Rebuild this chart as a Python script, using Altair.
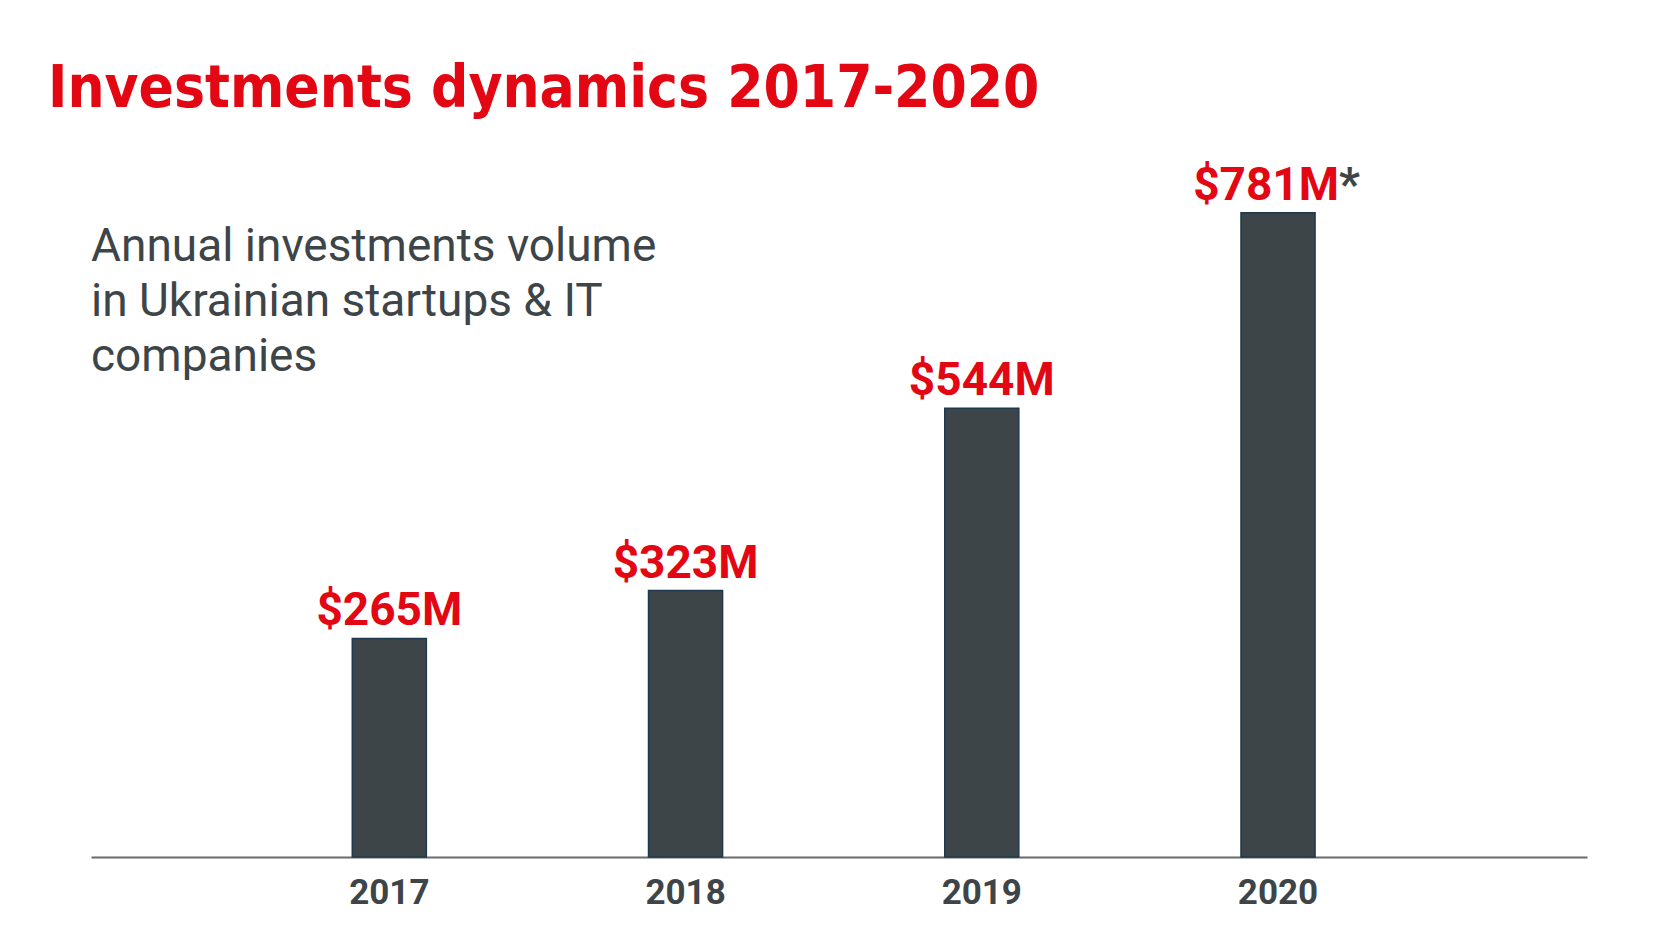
import altair as alt
import pandas as pd

years = ["2017", "2018", "2019", "2020"]
values = [265, 323, 544, 781]
labels = ["$265M", "$323M", "$544M", "$781M"]
notes = ["", "", "", "*"]

title_text = "Investments dynamics 2017-2020"
subtitle_text = "Annual investments volume\nin Ukrainian startups & IT\ncompanies"

RED = "#e30613"
DARK = "#3d4548"

df = pd.DataFrame({"year": years, "value": values, "label": labels, "note": notes})

x_enc = alt.X(
    "year:N",
    sort=years,
    scale=alt.Scale(paddingInner=0.75, paddingOuter=0.9, align=0.49),
    axis=alt.Axis(
        title=None,
        labelAngle=0,
        labelFont="Roboto",
        labelFontWeight="bold",
        labelFontSize=35,
        labelColor=DARK,
        labelPadding=18,
        ticks=False,
        tickSize=0,
        grid=False,
        domainColor="#666b6e",
        domainWidth=2,
    ),
)
y_enc = alt.Y(
    "value:Q",
    scale=alt.Scale(domain=[0, 848.5], nice=False, zero=True),
    axis=None,
)

base = alt.Chart(df)

bars = base.mark_bar(color=DARK, stroke="#1e3a4c", strokeWidth=1.5).encode(x=x_enc, y=y_enc)

labels_plain = base.transform_filter("datum.note == ''").mark_text(
    font="Roboto", fontWeight="bold", fontSize=46, color=RED,
    baseline="alphabetic", align="center", dy=-13,
).encode(x=x_enc, y=y_enc, text="label:N")

labels_noted = base.transform_filter("datum.note != ''").mark_text(
    font="Roboto", fontWeight="bold", fontSize=46, color=RED,
    baseline="alphabetic", align="right", dx=61, dy=-13,
).encode(x=x_enc, y=y_enc, text="label:N")

notes_layer = base.transform_filter("datum.note != ''").mark_text(
    font="Roboto", fontWeight="bold", fontSize=46, color=DARK,
    baseline="alphabetic", align="left", dx=61, dy=-13,
).encode(x=x_enc, y=y_enc, text="note:N")

one = alt.Chart(pd.DataFrame({"k": [0]}))

title = one.mark_text(
    font="DejaVu Sans Condensed", fontWeight="bold", fontSize=58, color=RED,
    align="left", baseline="alphabetic",
).encode(x=alt.value(-43), y=alt.value(-50), text=alt.value(title_text))

subtitle = one.mark_text(
    font="Roboto", fontSize=46, color=DARK, align="left", baseline="alphabetic",
    lineBreak="\n", lineHeight=55,
).encode(x=alt.value(0), y=alt.value(104), text=alt.value(subtitle_text))

chart = alt.layer(bars, labels_plain, labels_noted, notes_layer, title, subtitle).properties(
    width=1496,
    height=700,
    padding={"left": 91, "top": 157, "right": 85, "bottom": 93},
    autosize="none",
    background="white",
).configure_view(stroke=None)

chart.save("out.html", embed_options={"renderer": "svg", "actions": False})
